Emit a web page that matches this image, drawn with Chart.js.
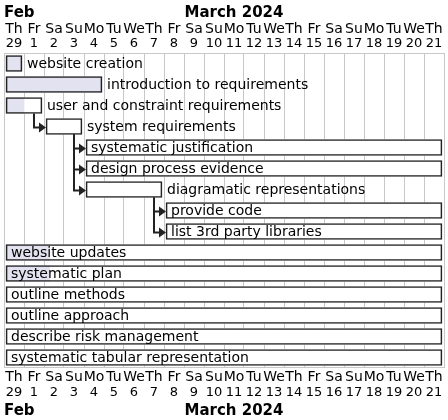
<!DOCTYPE html>
<html>
<head>
<meta charset="utf-8">
<script src="https://cdn.jsdelivr.net/npm/chart.js@4.4.1/dist/chart.umd.min.js"></script>
<style>
  body { margin: 0; background: #fff; }
  #wrap { width: 448px; height: 420px; }
</style>
</head>
<body>
<div id="wrap"><canvas id="gantt" width="448" height="420"></canvas></div>
<script>
// Tâches du diagramme
const tasks = [
  'website creation',
  'introduction to requirements',
  'user and constraint requirements',
  'system requirements',
  'systematic justification',
  'design process evidence',
  'diagramatic representations',
  'provide code',
  'list 3rd party libraries',
  'website updates',
  'systematic plan',
  'outline methods',
  'outline approach',
  'describe risk management',
  'systematic tabular representation'
];
// jour de début (0 = Th 29 Feb) et durée en jours
const startDay = [0, 0, 0, 2, 4, 4, 4, 8, 8, 0, 0, 0, 0, 0, 0];
const duration = [1, 5, 2, 2, 18, 18, 4, 14, 14, 22, 22, 22, 22, 22, 22];
const complete = [100, 100, 50, 0, 0, 0, 0, 0, 0, 10, 10, 0, 0, 0, 0];
// dépendances [avant, après]
const links = [[2, 3], [3, 4], [3, 5], [3, 6], [6, 7], [6, 8]];

// En-tête du calendrier
const dayNames = ['Th', 'Fr', 'Sa', 'Su', 'Mo', 'Tu', 'We', 'Th', 'Fr', 'Sa', 'Su',
  'Mo', 'Tu', 'We', 'Th', 'Fr', 'Sa', 'Su', 'Mo', 'Tu', 'We', 'Th'];
const dayNums = ['29', '1', '2', '3', '4', '5', '6', '7', '8', '9', '10',
  '11', '12', '13', '14', '15', '16', '17', '18', '19', '20', '21'];
const months = ['Feb', 'March 2024'];
const monthStart = [0, 1];

const GAP = 0.1; // petit espace entre la barre et la colonne
const bars = startDay.map((s, i) => [s + GAP, s + duration[i] - GAP]);
const done = startDay.map((s, i) => {
  if (!complete[i]) return null;
  const len = duration[i] - 2 * GAP;
  return [s + GAP, s + GAP + len * complete[i] / 100];
});

const FONT = '"DejaVu Sans", sans-serif';
const LINE = '#222222';

const ganttDecor = {
  id: 'ganttDecor',
  afterDatasetsDraw(chart) {
    const ctx = chart.ctx;
    const area = chart.chartArea;
    const meta = chart.getDatasetMeta(0);
    ctx.save();

    // flèches de dépendance
    ctx.strokeStyle = LINE;
    ctx.fillStyle = LINE;
    ctx.lineWidth = 2;
    links.forEach(([a, b]) => {
      const from = meta.data[a];
      const to = meta.data[b];
      const x0 = Math.round(from.x - 8);
      const y0 = from.y + from.height / 2;
      const y1 = Math.round(to.y) + 0.5;
      const tip = to.base;
      ctx.beginPath();
      ctx.moveTo(x0, y0);
      ctx.lineTo(x0, y1);
      ctx.lineTo(tip - 6, y1);
      ctx.stroke();
      ctx.beginPath();
      ctx.moveTo(tip, y1);
      ctx.lineTo(tip - 7, y1 - 5);
      ctx.lineTo(tip - 7, y1 + 5);
      ctx.closePath();
      ctx.fill();
    });

    // noms des tâches
    ctx.font = '14px ' + FONT;
    ctx.fillStyle = '#000';
    ctx.textBaseline = 'middle';
    ctx.textAlign = 'left';
    tasks.forEach((name, i) => {
      const el = meta.data[i];
      const w = ctx.measureText(name).width;
      let tx = el.x + 5;
      if (tx + w > area.right) tx = el.base + 5;
      ctx.fillText(name, tx, el.y + 0.5);
    });

    // lignes haut et bas de la grille
    ctx.strokeStyle = '#c8c8c8';
    ctx.lineWidth = 1;
    ctx.beginPath();
    ctx.moveTo(area.left, Math.round(area.top) + 0.5);
    ctx.lineTo(area.right, Math.round(area.top) + 0.5);
    ctx.moveTo(area.left, Math.round(area.bottom) - 0.5);
    ctx.lineTo(area.right, Math.round(area.bottom) - 0.5);
    ctx.stroke();
    ctx.restore();
  },
  afterDraw(chart) {
    const ctx = chart.ctx;
    const x = chart.scales.x;
    const area = chart.chartArea;
    ctx.save();
    ctx.fillStyle = '#000';
    ctx.textBaseline = 'middle';
    ctx.textAlign = 'center';
    dayNames.forEach((d, i) => {
      const cx = x.getPixelForValue(i + 0.5);
      ctx.font = '14px ' + FONT;
      ctx.fillText(d, cx, area.top - 24);
      ctx.fillText(d, cx, area.bottom + 9);
      ctx.font = '13px ' + FONT;
      ctx.fillText(dayNums[i], cx, area.top - 9);
      ctx.fillText(dayNums[i], cx, area.bottom + 25);
    });
    ctx.font = 'bold 15px ' + FONT;
    months.forEach((m, k) => {
      const end = k + 1 < monthStart.length ? monthStart[k + 1] : dayNames.length;
      const x1 = x.getPixelForValue(monthStart[k]);
      const x2 = x.getPixelForValue(end);
      const w = ctx.measureText(m).width;
      let tx = (x1 + x2 - w) / 2;
      if (w > x2 - x1) tx = x1;
      ctx.textAlign = 'left';
      ctx.fillText(m, tx, area.top - 40);
      ctx.fillText(m, tx, area.bottom + 43);
    });
    ctx.restore();
  }
};

const common = { grouped: false, barThickness: 16, borderSkipped: false };

new Chart(document.getElementById('gantt'), {
  type: 'bar',
  data: {
    labels: tasks,
    datasets: [
      Object.assign({ data: bars, backgroundColor: 'rgba(0,0,0,0)', borderColor: LINE, borderWidth: 1 }, common),
      Object.assign({ data: done, backgroundColor: '#e2e2f0', borderWidth: 0 }, common),
      Object.assign({ data: bars, backgroundColor: '#ffffff', borderWidth: 0 }, common)
    ]
  },
  options: {
    indexAxis: 'y',
    responsive: false,
    animation: false,
    devicePixelRatio: 1,
    layout: { padding: { left: 4, right: 4, top: 53, bottom: 52 } },
    plugins: { legend: { display: false }, tooltip: { enabled: false } },
    scales: {
      x: {
        type: 'linear',
        min: 0,
        max: 22,
        ticks: { display: false, stepSize: 1 },
        grid: { color: '#c8c8c8', drawTicks: false },
        border: { display: false }
      },
      y: { display: false }
    }
  },
  plugins: [ganttDecor]
});
</script>
</body>
</html>
